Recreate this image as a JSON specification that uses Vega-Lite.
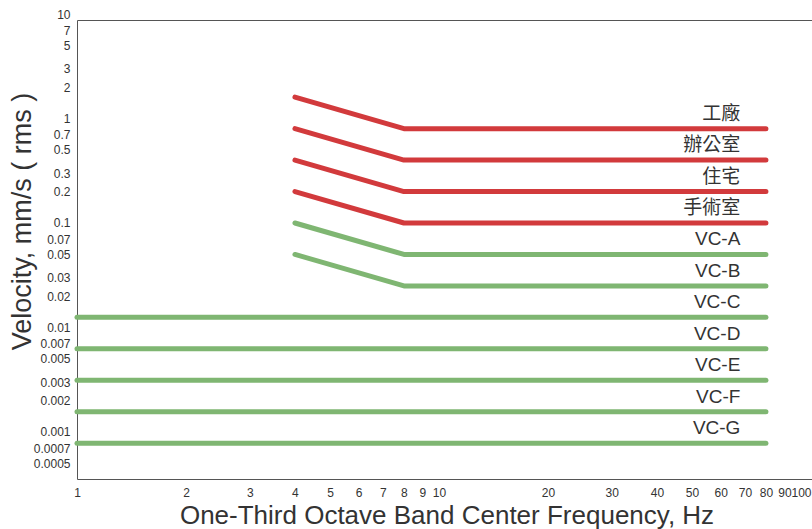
{
  "$schema": "https://vega.github.io/schema/vega-lite/v6.json",
  "autosize": "none",
  "width": 739,
  "height": 459,
  "padding": {"left": 77, "top": 20, "right": 0, "bottom": 50},
  "config": {
    "view": {"stroke": "#555555", "strokeWidth": 1},
    "font": "Liberation Sans, Noto Sans CJK TC",
    "axis": {"grid": false, "ticks": false, "domain": false, "labelColor": "#333333", "titleColor": "#333333", "labelFont": "Liberation Sans", "titleFont": "Liberation Sans, Noto Sans CJK TC", "titleFontWeight": "normal"}
  },
  "datasets": {
    "lines": [
      {"name": "工廠", "grp": "red", "f": 4, "v": 1.6},
      {"name": "工廠", "grp": "red", "f": 8, "v": 0.8},
      {"name": "工廠", "grp": "red", "f": 80, "v": 0.8},
      {"name": "辦公室", "grp": "red", "f": 4, "v": 0.8},
      {"name": "辦公室", "grp": "red", "f": 8, "v": 0.4},
      {"name": "辦公室", "grp": "red", "f": 80, "v": 0.4},
      {"name": "住宅", "grp": "red", "f": 4, "v": 0.4},
      {"name": "住宅", "grp": "red", "f": 8, "v": 0.2},
      {"name": "住宅", "grp": "red", "f": 80, "v": 0.2},
      {"name": "手術室", "grp": "red", "f": 4, "v": 0.2},
      {"name": "手術室", "grp": "red", "f": 8, "v": 0.1},
      {"name": "手術室", "grp": "red", "f": 80, "v": 0.1},
      {"name": "VC-A", "grp": "green", "f": 4, "v": 0.1},
      {"name": "VC-A", "grp": "green", "f": 8, "v": 0.05},
      {"name": "VC-A", "grp": "green", "f": 80, "v": 0.05},
      {"name": "VC-B", "grp": "green", "f": 4, "v": 0.05},
      {"name": "VC-B", "grp": "green", "f": 8, "v": 0.025},
      {"name": "VC-B", "grp": "green", "f": 80, "v": 0.025},
      {"name": "VC-C", "grp": "green", "f": 1, "v": 0.0125},
      {"name": "VC-C", "grp": "green", "f": 80, "v": 0.0125},
      {"name": "VC-D", "grp": "green", "f": 1, "v": 0.00625},
      {"name": "VC-D", "grp": "green", "f": 80, "v": 0.00625},
      {"name": "VC-E", "grp": "green", "f": 1, "v": 0.003125},
      {"name": "VC-E", "grp": "green", "f": 80, "v": 0.003125},
      {"name": "VC-F", "grp": "green", "f": 1, "v": 0.0015625},
      {"name": "VC-F", "grp": "green", "f": 80, "v": 0.0015625},
      {"name": "VC-G", "grp": "green", "f": 1, "v": 0.00078},
      {"name": "VC-G", "grp": "green", "f": 80, "v": 0.00078}
    ],
    "labels": [
      {"name": "工廠", "f": 68, "v": 0.8},
      {"name": "辦公室", "f": 68, "v": 0.4},
      {"name": "住宅", "f": 68, "v": 0.2},
      {"name": "手術室", "f": 68, "v": 0.1},
      {"name": "VC-A", "f": 68, "v": 0.05},
      {"name": "VC-B", "f": 68, "v": 0.025},
      {"name": "VC-C", "f": 68, "v": 0.0125},
      {"name": "VC-D", "f": 68, "v": 0.00625},
      {"name": "VC-E", "f": 68, "v": 0.003125},
      {"name": "VC-F", "f": 68, "v": 0.0015625},
      {"name": "VC-G", "f": 68, "v": 0.00078}
    ]
  },
  "layer": [
    {
      "data": {"name": "lines"},
      "mark": {"type": "line", "strokeWidth": 5, "strokeCap": "round", "strokeJoin": "round"},
      "encoding": {
        "x": {
          "field": "f", "type": "quantitative",
          "scale": {"type": "log", "domain": [1, 110], "nice": false},
          "axis": {
            "title": "One-Third Octave Band Center Frequency, Hz",
            "titleFontSize": 26, "titlePadding": 4,
            "values": [1, 2, 3, 4, 5, 6, 7, 8, 9, 10, 20, 30, 40, 50, 60, 70, 80, 90, 100],
            "format": "~g", "labelFontSize": 12, "labelPadding": 8,
            "labelOverlap": false, "labelFlush": false
          }
        },
        "y": {
          "field": "v", "type": "quantitative",
          "scale": {"type": "log", "domain": [0.000355, 10], "nice": false, "range": [459, -6]},
          "axis": {
            "title": "Velocity,  mm/s ( rms )",
            "titleFontSize": 27, "titleX": -55, "titleY": 201, "titleAngle": -90,
            "titleAlign": "center", "titleBaseline": "middle",
            "values": [10, 7, 5, 3, 2, 1, 0.7, 0.5, 0.3, 0.2, 0.1, 0.07, 0.05, 0.03, 0.02, 0.01, 0.007, 0.005, 0.003, 0.002, 0.001, 0.0007, 0.0005],
            "format": "~g", "labelFontSize": 12, "labelPadding": 7,
            "labelOverlap": false, "labelFlush": false
          }
        },
        "detail": {"field": "name"},
        "color": {"field": "grp", "type": "nominal", "scale": {"domain": ["red", "green"], "range": ["#d23a3c", "#7fb672"]}, "legend": null}
      }
    },
    {
      "data": {"name": "labels"},
      "mark": {"type": "text", "align": "right", "baseline": "middle", "dy": -15, "fontSize": 19, "color": "#333333", "font": "Liberation Sans, Noto Sans CJK TC"},
      "encoding": {
        "x": {"field": "f", "type": "quantitative"},
        "y": {"field": "v", "type": "quantitative"},
        "text": {"field": "name"}
      }
    }
  ]
}
